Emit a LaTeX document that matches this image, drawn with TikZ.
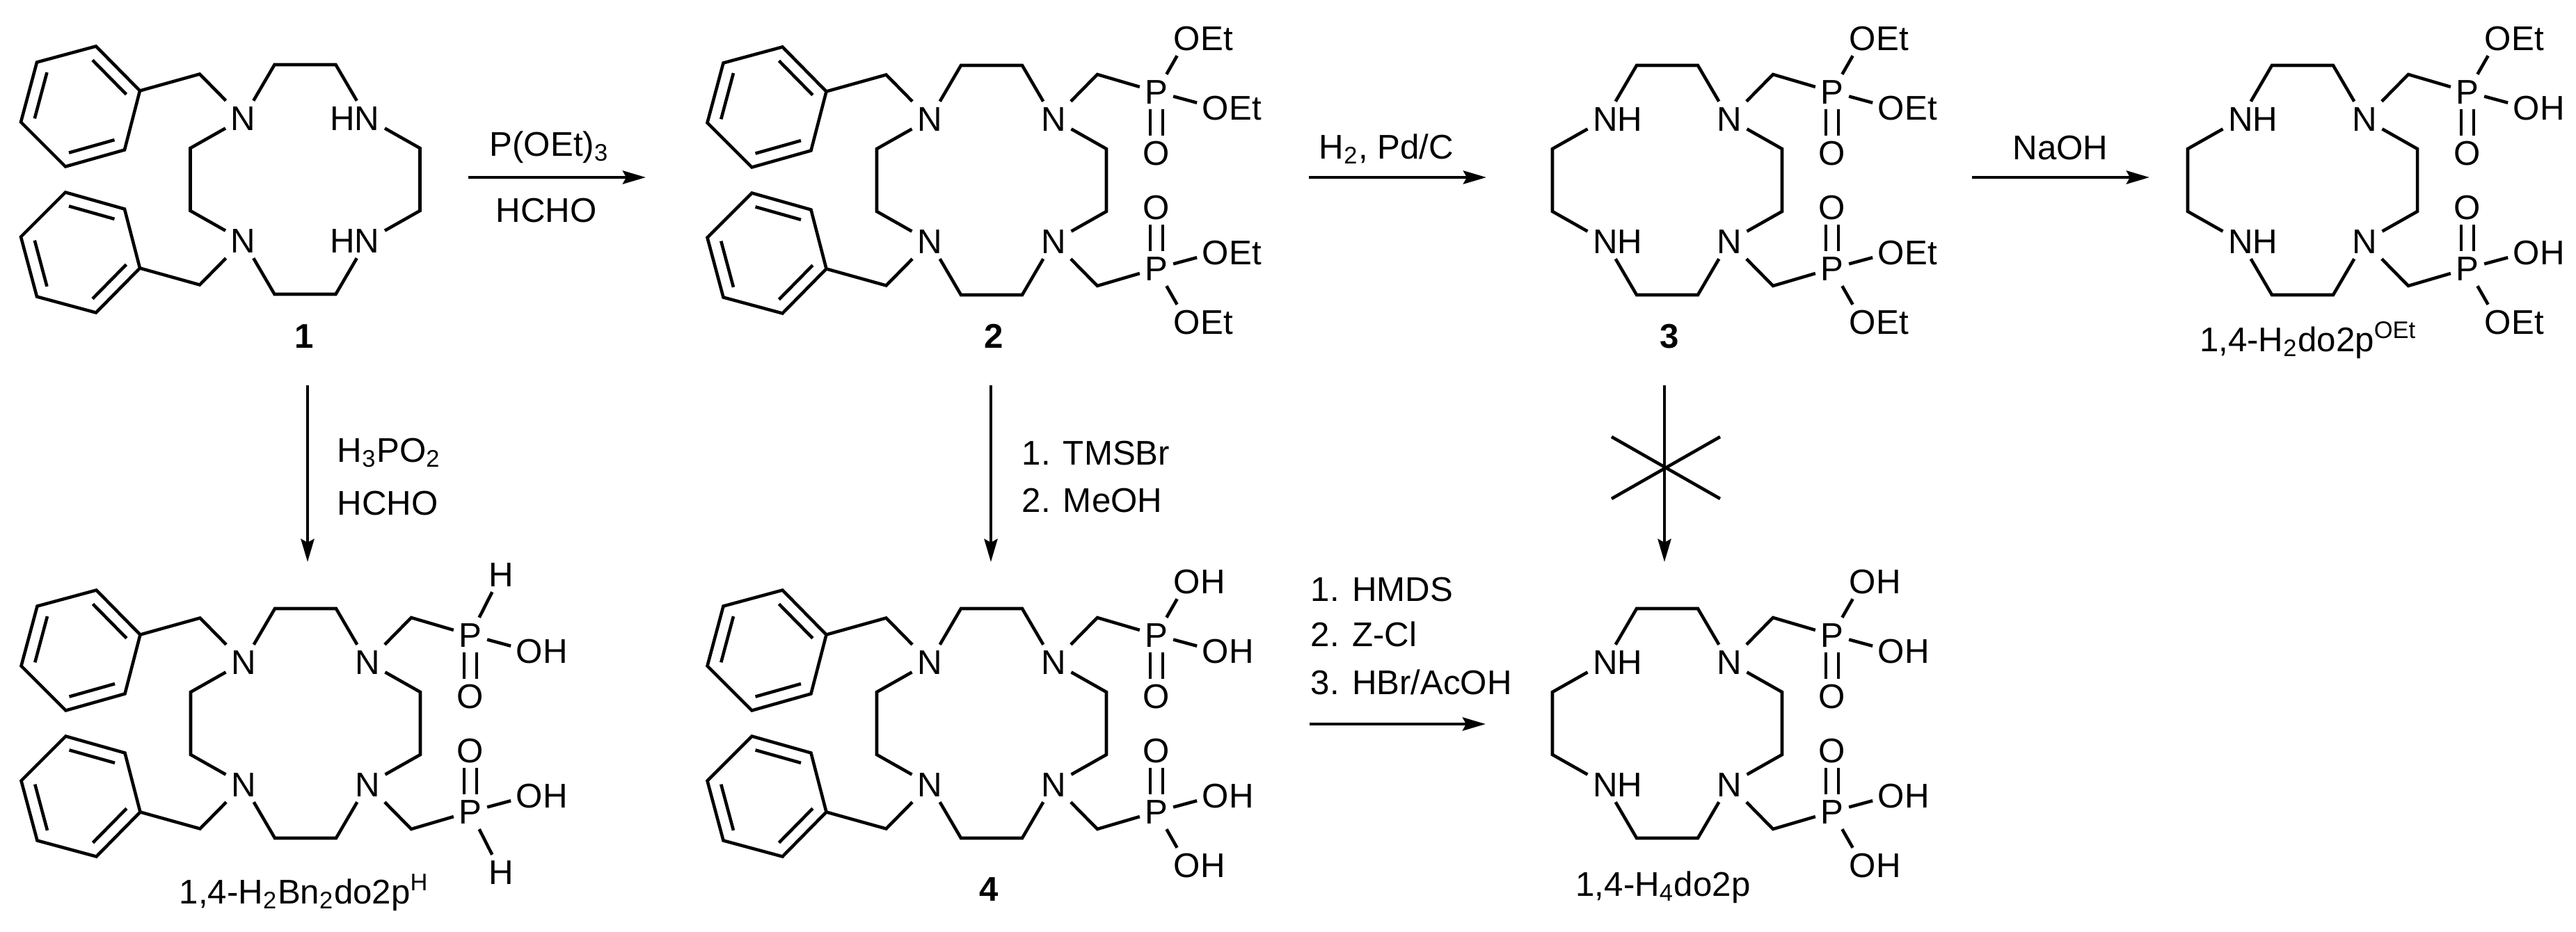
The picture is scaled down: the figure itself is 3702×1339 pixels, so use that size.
\documentclass[tikz,border=0pt]{standalone}
\usepackage{fontspec}
\setmainfont{Liberation Sans}
\usetikzlibrary{arrows.meta,calc}

\newcommand{\chemfont}{\fontsize{14}{17}\selectfont}
\newcommand{\atomNH}{\rlap{NH}\phantom{N}}
\newcommand{\atomHN}{\phantom{N}\llap{HN}}
\newcommand{\atomOEt}{\rlap{OEt}\phantom{O}}
\newcommand{\atomOH}{\rlap{OH}\phantom{O}}

\tikzset{
  atom/.style={font=\chemfont,inner sep=0.07cm,text height=0.35cm,text depth=0pt},
  bond/.style={line width=1.3pt,line join=miter},
  dbond/.style={bond,double,double distance=0.135cm},
  reagent/.style={font=\chemfont,inner sep=0pt,anchor=base west},
  caption/.style={font=\chemfont,inner sep=0pt,anchor=base},
  compound/.style={font=\chemfont\bfseries,inner sep=0pt,anchor=base},
  rarrow/.style={line width=1.3pt,-{Stealth[length=0.33cm,width=0.19cm,inset=0.05cm]}}
}

\newcommand{\cycring}[4]{
  \node[atom] (n1) at (-89,-88) {#1};
  \node[atom] (n2) at (89,-88) {#2};
  \node[atom] (n3) at (-89,88) {#3};
  \node[atom] (n4) at (89,88) {#4};
  \coordinate (c1) at (-44,-165);
  \coordinate (c2) at (44,-165);
  \coordinate (c3) at (165,-45);
  \coordinate (c4) at (165,45);
  \coordinate (c5) at (44,165);
  \coordinate (c6) at (-44,165);
  \coordinate (c7) at (-165,45);
  \coordinate (c8) at (-165,-45);
  \draw[bond] (n1) -- (c1) -- (c2) -- (n2);
  \draw[bond] (n2) -- (c3) -- (c4) -- (n4);
  \draw[bond] (n4) -- (c5) -- (c6) -- (n3);
  \draw[bond] (n3) -- (c7) -- (c8) -- (n1);
}

\newcommand{\benzylarm}[3]{
  \begin{scope}[yscale=#3]
  \coordinate (ch#1) at (-151.5,-151.5);
  \coordinate (bc#1) at (-322.5,-105);
  \coordinate (ra#1) at (-237.5,-127.5);
  \coordinate (rb#1) at (-300.5,-191.5);
  \coordinate (rc#1) at (-385.5,-168.5);
  \coordinate (rd#1) at (-408.5,-82.5);
  \coordinate (re#1) at (-344.5,-18.5);
  \coordinate (rf#1) at (-259.5,-42.5);
  \draw[bond] (#2) -- (ch#1) -- (ra#1);
  \draw[bond] (ra#1) -- (rb#1) -- (rc#1) -- (rd#1) -- (re#1) -- (rf#1) -- cycle;
  \draw[bond] ($(bc#1)!0.77!(ra#1)$) -- ($(bc#1)!0.77!(rb#1)$);
  \draw[bond] ($(bc#1)!0.77!(rc#1)$) -- ($(bc#1)!0.77!(rd#1)$);
  \draw[bond] ($(bc#1)!0.77!(re#1)$) -- ($(bc#1)!0.77!(rf#1)$);
  \end{scope}
}

\newcommand{\phosarm}[6]{
  \begin{scope}[yscale=#3]
  \coordinate (ca#1) at (152,-152);
  \node[atom] (p#1) at (237,-127) {P};
  \node[atom] (o#1) at (237,-39) {O};
  \node[atom] (ga#1) at (281,#6) {#4};
  \node[atom] (gb#1) at (322,-104) {#5};
  \draw[bond] (#2) -- (ca#1) -- (p#1);
  \draw[bond] (p#1) -- (ga#1);
  \draw[bond] (p#1) -- (gb#1);
  \draw[dbond] (p#1) -- (o#1);
  \end{scope}
}

\begin{document}
\begin{tikzpicture}[x=0.01cm,y=-0.01cm]
\useasboundingbox (0,0) rectangle (3702,1339);

\begin{scope}[shift={(438.5,258)},name prefix=bn-]
\cycring{N}{\atomHN}{N}{\atomHN}
\benzylarm{a}{n1}{1}
\benzylarm{b}{n3}{-1}
\end{scope}
\node[compound] (one) at (437,500) {1};

\begin{scope}[shift={(1425,259)},name prefix=est-]
\cycring{N}{N}{N}{N}
\benzylarm{a}{n1}{1}
\benzylarm{b}{n3}{-1}
\phosarm{a}{n2}{1}{\atomOEt}{\atomOEt}{-204}
\phosarm{b}{n4}{-1}{\atomOEt}{\atomOEt}{-204}
\end{scope}
\node[compound] (two) at (1428,500) {2};

\begin{scope}[shift={(2396,259)},name prefix=free-]
\cycring{\atomNH}{N}{\atomNH}{N}
\phosarm{a}{n2}{1}{\atomOEt}{\atomOEt}{-204}
\phosarm{b}{n4}{-1}{\atomOEt}{\atomOEt}{-204}
\end{scope}
\node[compound] (three) at (2399,500) {3};

\begin{scope}[shift={(3309,259)},name prefix=mono-]
\cycring{\atomNH}{N}{\atomNH}{N}
\phosarm{a}{n2}{1}{\atomOEt}{\atomOH}{-204}
\phosarm{b}{n4}{-1}{\atomOEt}{\atomOH}{-204}
\end{scope}
\node[caption] (mononame) at (3317,505) {1,4-H\textsubscript{2}do2p\textsuperscript{OEt}};

\begin{scope}[shift={(439,1040)},name prefix=phin-]
\cycring{N}{N}{N}{N}
\benzylarm{a}{n1}{1}
\benzylarm{b}{n3}{-1}
\phosarm{a}{n2}{1}{H}{\atomOH}{-214}
\phosarm{b}{n4}{-1}{H}{\atomOH}{-214}
\end{scope}
\node[caption] (phinname) at (437,1299) {1,4-H\textsubscript{2}Bn\textsubscript{2}do2p\textsuperscript{H}};

\begin{scope}[shift={(1425,1040)},name prefix=acid-]
\cycring{N}{N}{N}{N}
\benzylarm{a}{n1}{1}
\benzylarm{b}{n3}{-1}
\phosarm{a}{n2}{1}{\atomOH}{\atomOH}{-204}
\phosarm{b}{n4}{-1}{\atomOH}{\atomOH}{-204}
\end{scope}
\node[compound] (four) at (1421,1295) {4};

\begin{scope}[shift={(2396,1040)},name prefix=prod-]
\cycring{\atomNH}{N}{\atomNH}{N}
\phosarm{a}{n2}{1}{\atomOH}{\atomOH}{-204}
\phosarm{b}{n4}{-1}{\atomOH}{\atomOH}{-204}
\end{scope}
\node[caption] (prodname) at (2390,1288) {1,4-H\textsubscript{4}do2p};

\coordinate (aa) at (673,255);
\coordinate (ab) at (928,255);
\draw[rarrow] (aa) -- (ab);
\node[reagent] (ra1) at (703,224) {P(OEt)\textsubscript{3}};
\node[reagent] (ra2) at (712,319) {HCHO};

\coordinate (ba) at (1881,255);
\coordinate (bb) at (2136,255);
\draw[rarrow] (ba) -- (bb);
\node[reagent] (rb1) at (1895,228) {H\textsubscript{2}, Pd/C};

\coordinate (ca) at (2834,255);
\coordinate (cb) at (3089,255);
\draw[rarrow] (ca) -- (cb);
\node[reagent] (rc1) at (2892,229) {NaOH};

\coordinate (da) at (442,554);
\coordinate (db) at (442,808);
\draw[rarrow] (da) -- (db);
\node[reagent] (rd1) at (484,664) {H\textsubscript{3}PO\textsubscript{2}};
\node[reagent] (rd2) at (484,740) {HCHO};

\coordinate (ea) at (1424,554);
\coordinate (eb) at (1424,808);
\draw[rarrow] (ea) -- (eb);
\node[reagent] (re1) at (1468,668) {1. TMSBr};
\node[reagent] (re2) at (1468,736) {2. MeOH};

\coordinate (fa) at (2392,554);
\coordinate (fb) at (2392,808);
\draw[rarrow] (fa) -- (fb);
\coordinate (xa) at (2316,628);
\coordinate (xb) at (2472,717);
\coordinate (xc) at (2316,717);
\coordinate (xd) at (2472,628);
\draw[bond] (xa) -- (xb);
\draw[bond] (xc) -- (xd);

\coordinate (ga) at (1882,1041);
\coordinate (gb) at (2135,1041);
\draw[rarrow] (ga) -- (gb);
\node[reagent] (rg1) at (1883,864) {1. HMDS};
\node[reagent] (rg2) at (1883,929) {2. Z-Cl};
\node[reagent] (rg3) at (1883,998) {3. HBr/AcOH};
\end{tikzpicture}
\end{document}
